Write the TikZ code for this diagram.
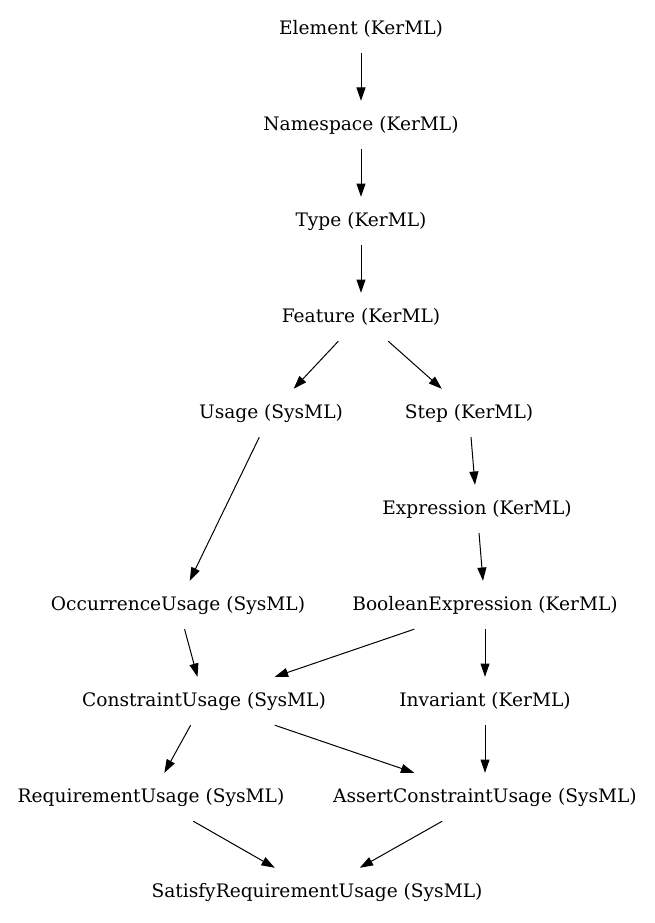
\documentclass[tikz,border=0pt]{standalone}
\usepackage{fontspec}
\setmainfont{DejaVu Serif}
\usetikzlibrary{arrows.meta}
\begin{document}
\begin{tikzpicture}[x=1pt,y=-1pt,
  cls/.style={draw=none,minimum height=48pt,inner xsep=4pt,font=\fontsize{18.6}{22}\selectfont},
  inh/.style={line width=1pt,-{Triangle[length=13.3pt,width=9pt]}}]
\useasboundingbox (0,0) rectangle (655,923);
\node[cls] (el) at (361,29) {Element (KerML)};
\node[cls] (ns) at (361,125) {Namespace (KerML)};
\node[cls] (ty) at (361,221) {Type (KerML)};
\node[cls] (fe) at (361,317) {Feature (KerML)};
\node[cls] (us) at (271,413) {Usage (SysML)};
\node[cls] (st) at (469,413) {Step (KerML)};
\node[cls] (ex) at (477,509) {Expression (KerML)};
\node[cls] (oc) at (178,605) {OccurrenceUsage (SysML)};
\node[cls] (be) at (485,605) {BooleanExpression (KerML)};
\node[cls] (cu) at (204,701) {ConstraintUsage (SysML)};
\node[cls] (in) at (485,701) {Invariant (KerML)};
\node[cls] (ru) at (151,797) {RequirementUsage (SysML)};
\node[cls] (ac) at (485,797) {AssertConstraintUsage (SysML)};
\node[cls] (sr) at (317,892) {SatisfyRequirementUsage (SysML)};
\draw[inh] (el) -- (ns);
\draw[inh] (ns) -- (ty);
\draw[inh] (ty) -- (fe);
\draw[inh] (fe) -- (us);
\draw[inh] (fe) -- (st);
\draw[inh] (us) -- (oc);
\draw[inh] (st) -- (ex);
\draw[inh] (ex) -- (be);
\draw[inh] (oc) -- (cu);
\draw[inh] (be) -- (cu);
\draw[inh] (be) -- (in);
\draw[inh] (cu) -- (ru);
\draw[inh] (cu) -- (ac);
\draw[inh] (in) -- (ac);
\draw[inh] (ru) -- (sr);
\draw[inh] (ac) -- (sr);
\end{tikzpicture}
\end{document}
